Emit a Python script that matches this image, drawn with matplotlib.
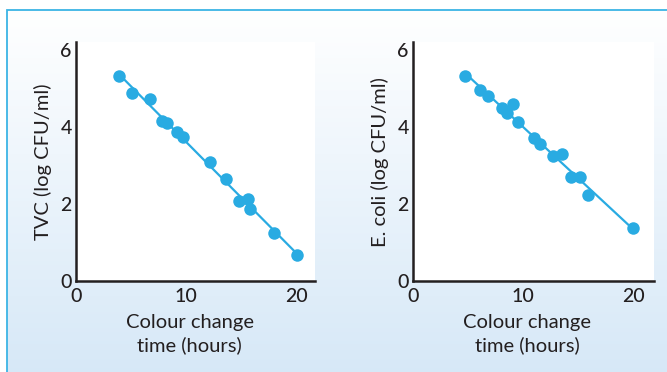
import numpy as np
import matplotlib
matplotlib.use("Agg")
import matplotlib.pyplot as plt
from matplotlib.patches import Rectangle

plt.rcParams['font.family'] = ['Lato', 'DejaVu Sans']

# colour change time (hours) vs log counts
tvc_time = [3.9, 5.1, 6.7, 7.8, 8.3, 9.2, 9.7, 12.2, 13.6, 14.8, 15.6, 15.8, 18.0, 20.1]
tvc_log = [5.32, 4.89, 4.73, 4.16, 4.11, 3.86, 3.75, 3.08, 2.65, 2.07, 2.13, 1.87, 1.25, 0.67]

ecoli_time = [4.7, 6.1, 6.85, 8.1, 8.55, 9.05, 9.5, 11.0, 11.5, 12.7, 13.5, 14.4, 15.2, 15.9, 20.0]
ecoli_log = [5.33, 4.96, 4.81, 4.50, 4.35, 4.60, 4.12, 3.71, 3.56, 3.25, 3.29, 2.69, 2.69, 2.23, 1.38]

x_ticks = [0, 10, 20]
y_ticks = [0, 2, 4, 6]
x_label = "Colour change\ntime (hours)"
y_labels = ["TVC (log CFU/ml)", "E. coli (log CFU/ml)"]

BLUE = '#29abe2'
INK = '#231f20'

fig = plt.figure(figsize=(6.67, 3.72), dpi=100)

# gradient background panel with thin blue border
bg = fig.add_axes([0, 0, 1, 1])
bg.set_xlim(0, 1)
bg.set_ylim(0, 1)
bg.axis('off')
grad = np.linspace(0, 1, 256).reshape(-1, 1)
top = np.array([1.0, 1.0, 1.0])
bottom = np.array([0.84, 0.91, 0.97])
img = top + (bottom - top) * grad[:, :, None]
x0, y1 = 7 / 667, 1 - 10 / 372
bg.imshow(img, extent=[x0, 1.01, -0.01, y1], aspect='auto', zorder=0)
bg.add_patch(Rectangle((x0, -0.05), 1.2, y1 + 0.05, fill=False,
                       edgecolor='#3cb4e5', linewidth=1.3, zorder=1))

panels = [
    ([76 / 667, 0.2446, 239 / 667, 0.642], tvc_time, tvc_log, y_labels[0], 21.7),
    ([413 / 667, 0.2446, 241 / 667, 0.642], ecoli_time, ecoli_log, y_labels[1], 21.9),
]

for rect, xs, ys, ylab, xmax in panels:
    ax = fig.add_axes(rect)
    ax.set_facecolor('white')
    xs = np.array(xs)
    ys = np.array(ys)
    slope, intercept = np.polyfit(xs, ys, 1)
    xl = np.array([xs.min(), xs.max()])
    ax.plot(xl, slope * xl + intercept, color=BLUE, linewidth=1.6, zorder=2)
    ax.plot(xs, ys, 'o', color=BLUE, markersize=9, markeredgewidth=0, zorder=3)
    ax.set_xlim(0, xmax)
    ax.set_ylim(0, 6.2)
    ax.set_xticks(x_ticks)
    ax.set_yticks(y_ticks)
    ax.tick_params(length=0, labelsize=14, labelcolor=INK, pad=3)
    ax.tick_params(axis='x', pad=5)
    for lbl in ax.get_xticklabels() + ax.get_yticklabels():
        lbl.set_fontweight('medium')
    for s in ['top', 'right']:
        ax.spines[s].set_visible(False)
    for s in ['left', 'bottom']:
        ax.spines[s].set_color(INK)
        ax.spines[s].set_linewidth(1.8)
    ax.set_xlabel(x_label, fontsize=14.5, color=INK, linespacing=1.3)
    ax.xaxis.set_label_coords(0.475, -0.14)
    ax.set_ylabel(ylab, fontsize=14.5, color=INK, labelpad=6)

fig.savefig('out.png', dpi=100)
